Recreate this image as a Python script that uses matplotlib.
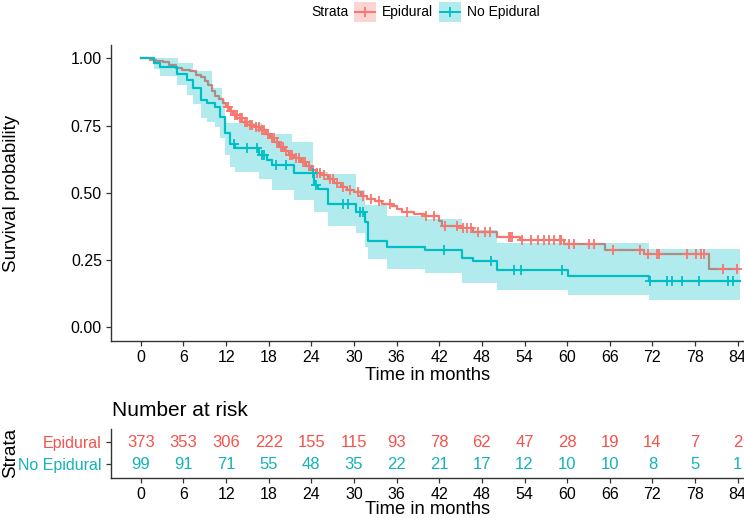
import numpy as np
import matplotlib
matplotlib.use("Agg")
import matplotlib.pyplot as plt
from matplotlib.patches import Rectangle
from matplotlib.lines import Line2D

plt.rcParams['font.family'] = ['Liberation Sans', 'DejaVu Sans']

# ---------------- data ----------------
strata = ["Epidural", "No Epidural"]
colors = ["#F8766D", "#00BFC4"]
text_colors = ["#F4524C", "#13B3B9"]

epi_time = [0, 1.3, 2.2, 3.1, 4.0, 5.0, 5.8, 6.9, 7.8, 8.4, 9.0, 9.5, 10.0, 10.5, 11.0, 11.6, 12.0, 12.5, 13.0, 13.6,
            14.3, 15.0, 16.0, 16.9, 17.6, 18.2, 18.8, 19.5, 20.2, 20.8, 21.6, 22.5, 23.3, 24.0, 24.6, 25.4, 26.3, 27.2,
            28.2, 29.0, 30.0, 31.0, 31.9, 33.0, 33.9, 35.3, 36.0, 36.7, 38.5, 40.0, 41.9, 42.4, 45.2, 46.8, 50.1, 53.4,
            59.6, 65.3, 70.8, 80.0]
epi_surv = [1.0, 0.994, 0.99, 0.985, 0.975, 0.965, 0.958, 0.952, 0.94, 0.93, 0.915, 0.9, 0.88, 0.862, 0.85, 0.835,
            0.818, 0.805, 0.79, 0.778, 0.765, 0.753, 0.744, 0.734, 0.72, 0.705, 0.69, 0.672, 0.655, 0.64, 0.628, 0.616,
            0.6, 0.585, 0.575, 0.565, 0.553, 0.538, 0.522, 0.512, 0.503, 0.49, 0.478, 0.468, 0.459, 0.452, 0.44, 0.43,
            0.422, 0.414, 0.397, 0.378, 0.37, 0.356, 0.334, 0.325, 0.308, 0.289, 0.271, 0.217]
epi_end = 84.1
epi_cens = [12.3, 12.7, 13.2, 13.5, 13.9, 14.2, 14.6, 14.9, 15.3, 15.7, 16.2, 16.6, 17.1, 17.4, 17.9, 18.4, 18.7,
            19.2, 19.7, 20.0, 20.5, 21.0, 21.3, 21.9, 22.3, 22.8, 23.1, 23.6, 24.3, 24.8, 25.2, 25.8, 26.6, 27.0,
            27.6, 28.5, 29.4, 30.5, 31.3, 32.4, 33.5, 35.0, 37.4, 40.2, 41.2, 42.8, 44.5, 45.4, 45.9, 46.4, 47.5,
            48.4, 49.2, 51.8, 52.0, 52.2, 53.7, 54.9, 55.9, 56.8, 57.5, 58.2, 59.0, 59.2, 60.3, 61.0, 63.1, 63.8,
            66.4, 70.2, 71.4, 72.7, 72.9, 76.8, 78.2, 78.9, 79.3, 81.9, 83.9]

noepi_time = [0, 1.8, 2.7, 5.1, 6.5, 7.4, 8.4, 9.3, 10.5, 11.2, 11.9, 12.6, 13.3, 16.6, 17.8, 18.5, 21.5, 24.4, 24.9,
              26.3, 30.3, 31.5, 32.0, 34.6, 40.0, 45.2, 46.8, 50.1, 60.1, 71.5]
noepi_surv = [1.0, 0.984, 0.968, 0.943, 0.918, 0.89, 0.847, 0.834, 0.818, 0.784, 0.722, 0.68, 0.666, 0.64, 0.622,
              0.605, 0.572, 0.528, 0.516, 0.459, 0.428, 0.393, 0.322, 0.297, 0.287, 0.257, 0.245, 0.212, 0.19, 0.172]
noepi_end = 84.3
noepi_cens = [13.1, 15.0, 16.4, 17.1, 17.3, 19.0, 20.4, 24.2, 24.7, 28.4, 29.1, 30.8, 31.3, 42.6, 49.3, 52.5, 53.5,
              59.3, 71.6, 74.0, 74.8, 76.2, 78.6, 82.7, 83.4]

noepi_up_time = [0, 5.3, 7.4, 10.0, 11.4, 11.8, 17.1, 21.3, 24.2, 26.3, 30.3, 31.5, 34.6, 40.0, 45.2, 50.1, 71.5]
noepi_up_val = [1.0, 0.984, 0.954, 0.89, 0.847, 0.76, 0.72, 0.69, 0.578, 0.57, 0.51, 0.455, 0.415, 0.403, 0.36,
                0.312, 0.29]
noepi_lo_time = [0, 1.8, 2.7, 5.1, 6.5, 7.4, 8.4, 9.3, 10.5, 11.2, 11.9, 12.6, 13.3, 16.6, 18.5, 21.5, 24.4, 26.3,
                 30.3, 31.5, 32.0, 34.6, 40.0, 45.2, 50.1, 60.1, 71.5]
noepi_lo_val = [1.0, 0.96, 0.935, 0.9, 0.865, 0.83, 0.78, 0.765, 0.745, 0.705, 0.64, 0.595, 0.578, 0.55, 0.51, 0.475,
                0.43, 0.378, 0.35, 0.3, 0.255, 0.216, 0.2, 0.163, 0.137, 0.12, 0.103]

risk_times = [0, 6, 12, 18, 24, 30, 36, 42, 48, 54, 60, 66, 72, 78, 84]
risk_epi = [373, 353, 306, 222, 155, 115, 93, 78, 62, 47, 28, 19, 14, 7, 2]
risk_noepi = [99, 91, 71, 55, 48, 35, 22, 21, 17, 12, 10, 10, 8, 5, 1]
y_ticks = [0.00, 0.25, 0.50, 0.75, 1.00]


def step_eval(times, vals, q):
    idx = np.searchsorted(np.asarray(times), np.asarray(q), side='right') - 1
    return np.asarray(vals)[idx]


# ---------------- figure ----------------
W, H = 744, 518
fig = plt.figure(figsize=(W / 100, H / 100), dpi=100)

ax_l, ax_r = 111, 767.5
xlim = (-4.2, 88.2)
main_top, main_bot = 45, 340.7
ax = fig.add_axes([ax_l / W, 1 - main_bot / H, (ax_r - ax_l) / W, (main_bot - main_top) / H])

lw = 1.6
et = list(epi_time) + [epi_end]
es = list(epi_surv) + [epi_surv[-1]]
ax.step(et, es, where='post', color=colors[0], lw=lw, zorder=2)
nt = list(noepi_time) + [noepi_end]
ns = list(noepi_surv) + [noepi_surv[-1]]
ax.step(nt, ns, where='post', color=colors[1], lw=lw, zorder=2)
bt = np.unique(np.concatenate([noepi_up_time, noepi_lo_time, [noepi_end]]))
ax.fill_between(bt, step_eval(noepi_lo_time, noepi_lo_val, bt), step_eval(noepi_up_time, noepi_up_val, bt),
                step='post', color=colors[1], alpha=0.3, lw=0, zorder=3)
ax.plot(epi_cens, step_eval(epi_time, epi_surv, epi_cens), ls='none', marker='+', ms=7, mew=1.3,
        color=colors[0], zorder=4)
ax.plot(noepi_cens, step_eval(noepi_time, noepi_surv, noepi_cens), ls='none', marker='+', ms=7, mew=1.3,
        color=colors[1], zorder=4)

ax.set_xlim(*xlim)
ax.set_ylim(-0.05, 1.05)
ax.set_xticks(risk_times)
ax.set_yticks(y_ticks)
ax.set_yticklabels([f"{v:.2f}" for v in y_ticks])
for s in ['top', 'right']:
    ax.spines[s].set_visible(False)
for s in ['left', 'bottom']:
    ax.spines[s].set_color('#333333')
    ax.spines[s].set_linewidth(1.0)
ax.tick_params(direction='out', length=3.5, width=0.9, color='#333333', labelsize=11.5, labelcolor='black', pad=3)

# ---------------- risk table ----------------
rt_top, rt_bot = 429, 477.7
ax2 = fig.add_axes([ax_l / W, 1 - rt_bot / H, (ax_r - ax_l) / W, (rt_bot - rt_top) / H])
ax2.set_xlim(*xlim)
ax2.set_ylim(0.4, 2.6)
for x, n in zip(risk_times, risk_epi):
    ax2.text(x, 2, str(n), color=text_colors[0], fontsize=12, ha='center', va='center')
for x, n in zip(risk_times, risk_noepi):
    ax2.text(x, 1, str(n), color=text_colors[1], fontsize=12, ha='center', va='center')
ax2.set_xticks(risk_times)
ax2.set_yticks([1, 2])
ax2.set_yticklabels([strata[1], strata[0]])
for lab, c in zip(ax2.get_yticklabels(), [text_colors[1], text_colors[0]]):
    lab.set_color(c)
for s in ['top', 'right']:
    ax2.spines[s].set_visible(False)
for s in ['left', 'bottom']:
    ax2.spines[s].set_color('#333333')
    ax2.spines[s].set_linewidth(1.0)
ax2.tick_params(direction='out', length=3.5, width=0.9, color='#333333', labelsize=11.5, pad=3)
ax2.tick_params(axis='y', labelsize=11.5)

# ---------------- titles / labels (pixel overlay) ----------------
lax = fig.add_axes([0, 0, 1, 1], zorder=10)
lax.set_xlim(0, W)
lax.set_ylim(H, 0)
lax.axis('off')
lax.text(428, 376, "Time in months", fontsize=13.2, ha='center', va='center')
lax.text(428, 509, "Time in months", fontsize=13.2, ha='center', va='center')
lax.text(12, 193, "Survival probability", fontsize=13.5, rotation=90, ha='center', va='center')
lax.text(11, 453, "Strata", fontsize=13.5, rotation=90, ha='center', va='center')
lax.text(112.5, 410, "Number at risk", fontsize=15, ha='left', va='center')

# legend
lax.text(311.7, 12, "Strata", fontsize=10, ha='left', va='center')
for (x0, lab_x), lab, c in zip([(354, 381.7), (439.3, 466.7)], strata, colors):
    lax.add_patch(Rectangle((x0, 1.5), 21.5, 20, facecolor=c, alpha=0.3, lw=0))
    lax.add_line(Line2D([x0 + 1, x0 + 20.5], [11.5, 11.5], color=c, lw=1.4))
    lax.plot([x0 + 10.75], [11.5], marker='+', ms=7, mew=1.3, color=c)
    lax.text(lab_x, 12, lab, fontsize=10, ha='left', va='center')

fig.savefig("out.png", dpi=100)
